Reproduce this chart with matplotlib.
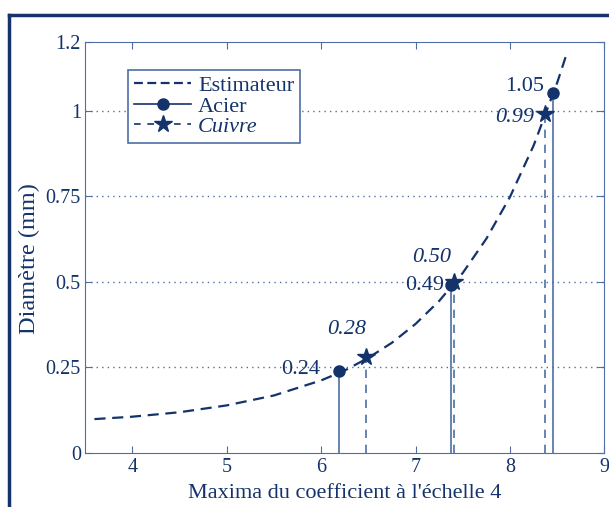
import matplotlib.pyplot as plt
from matplotlib.lines import Line2D

plt.rcParams['font.family'] = ['Liberation Serif', 'DejaVu Serif']

navy = '#14336a'
light = '#4f6ea6'

# estimator curve
est_x = [3.6, 4.0, 4.5, 5.0, 5.5, 6.0, 6.25, 6.5, 6.75, 7.0, 7.25, 7.5, 7.75, 8.0, 8.25, 8.5, 8.6]
est_y = [0.099, 0.106, 0.119, 0.139, 0.168, 0.212, 0.241, 0.278, 0.322, 0.377, 0.444, 0.526, 0.626, 0.748, 0.898, 1.082, 1.166]

acier_x = [6.19, 7.37, 8.46]
acier_y = [0.24, 0.49, 1.05]
acier_lbl = ['0.24', '0.49', '1.05']

cuivre_x = [6.48, 7.41, 8.37]
cuivre_y = [0.28, 0.50, 0.99]
cuivre_lbl = ['0.28', '0.50', '0.99']

fig = plt.figure(figsize=(6.09, 5.07), dpi=100)
ax = fig.add_axes([0.1396, 0.1065, 0.853, 0.8106])

ax.plot(est_x, est_y, '--', color=navy, lw=1.6, dashes=(5, 3), label='Estimateur')
for i in range(len(acier_x)):
    ax.plot([acier_x[i], acier_x[i]], [0, acier_y[i]], '-', color=light, lw=1.2)
    ax.plot([cuivre_x[i], cuivre_x[i]], [0, cuivre_y[i]], '--', color=light, lw=1.2, dashes=(5, 4))
ax.plot(acier_x, acier_y, 'o', color=navy, ms=8, zorder=5)
ax.plot(cuivre_x, cuivre_y, '*', color=navy, ms=13, zorder=5)

# labels
fs = 16
ax.text(acier_x[0] - 0.2, acier_y[0] + 0.005, acier_lbl[0], ha='right', va='center', fontsize=fs, color=navy)
ax.text(acier_x[1] - 0.07, acier_y[1], acier_lbl[1], ha='right', va='center', fontsize=fs, color=navy)
ax.text(acier_x[2] - 0.1, acier_y[2] + 0.02, acier_lbl[2], ha='right', va='center', fontsize=fs, color=navy)
ax.text(cuivre_x[0] - 0.21, cuivre_y[0] + 0.08, cuivre_lbl[0], ha='center', va='center', fontsize=fs, color=navy, style='italic')
ax.text(cuivre_x[1] - 0.24, cuivre_y[1] + 0.07, cuivre_lbl[1], ha='center', va='center', fontsize=fs, color=navy, style='italic')
ax.text(cuivre_x[2] - 0.12, cuivre_y[2] - 0.01, cuivre_lbl[2], ha='right', va='center', fontsize=fs, color=navy, style='italic')

ax.set_xlim(3.5, 9)
ax.set_ylim(0, 1.2)
ax.set_xticks([4, 5, 6, 7, 8, 9])
ax.set_xticklabels(['4', '5', '6', '7', '8', '9'])
ax.set_yticks([0, 0.25, 0.5, 0.75, 1, 1.2])
ax.set_yticklabels(['0', '0.25', '0.5', '0.75', '1', '1.2'])
ax.tick_params(direction='in', top=True, right=True, colors=light, labelcolor=navy, labelsize=14.5, length=5)
ax.tick_params(axis='y', pad=3)
for s in ax.spines.values():
    s.set_color(light)
for yv in [0.25, 0.5, 0.75, 1.0]:
    ax.axhline(yv, color=light, ls=(0, (1, 3)), lw=1)

ax.set_xlabel("Maxima du coefficient à l'échelle 4", fontsize=16, color=navy, labelpad=5)
ax.set_ylabel('Diamètre (mm)', fontsize=17.5, color=navy)
ax.yaxis.set_label_coords(-0.086, 0.472)

handles = [
    Line2D([], [], color=navy, ls='--', dashes=(4, 2), lw=1.6),
    Line2D([], [], color=navy, ls='-', marker='o', ms=8, lw=1.2),
    Line2D([], [], color=navy, ls='--', marker='*', ms=13, lw=1.2, dashes=(4, 4)),
]
leg = ax.legend(handles, ['Estimateur', 'Acier', 'Cuivre'], loc='upper left', bbox_to_anchor=(0.083, 0.932),
                borderaxespad=0, fancybox=False, framealpha=1, edgecolor=light, fontsize=16, handlelength=2.6,
                borderpad=0.25, labelspacing=0.0, handletextpad=0.3)
leg.get_frame().set_linewidth(1.2)
for t in leg.get_texts():
    t.set_color(navy)
leg.get_texts()[2].set_style('italic')

# outer frame
fig.add_artist(Line2D([0.015, 0.015], [0, 0.970], color=navy, lw=2.5, transform=fig.transFigure))
fig.add_artist(Line2D([0.015, 1.0], [0.970, 0.970], color=navy, lw=2.5, transform=fig.transFigure))

fig.savefig('out.png', dpi=100)
